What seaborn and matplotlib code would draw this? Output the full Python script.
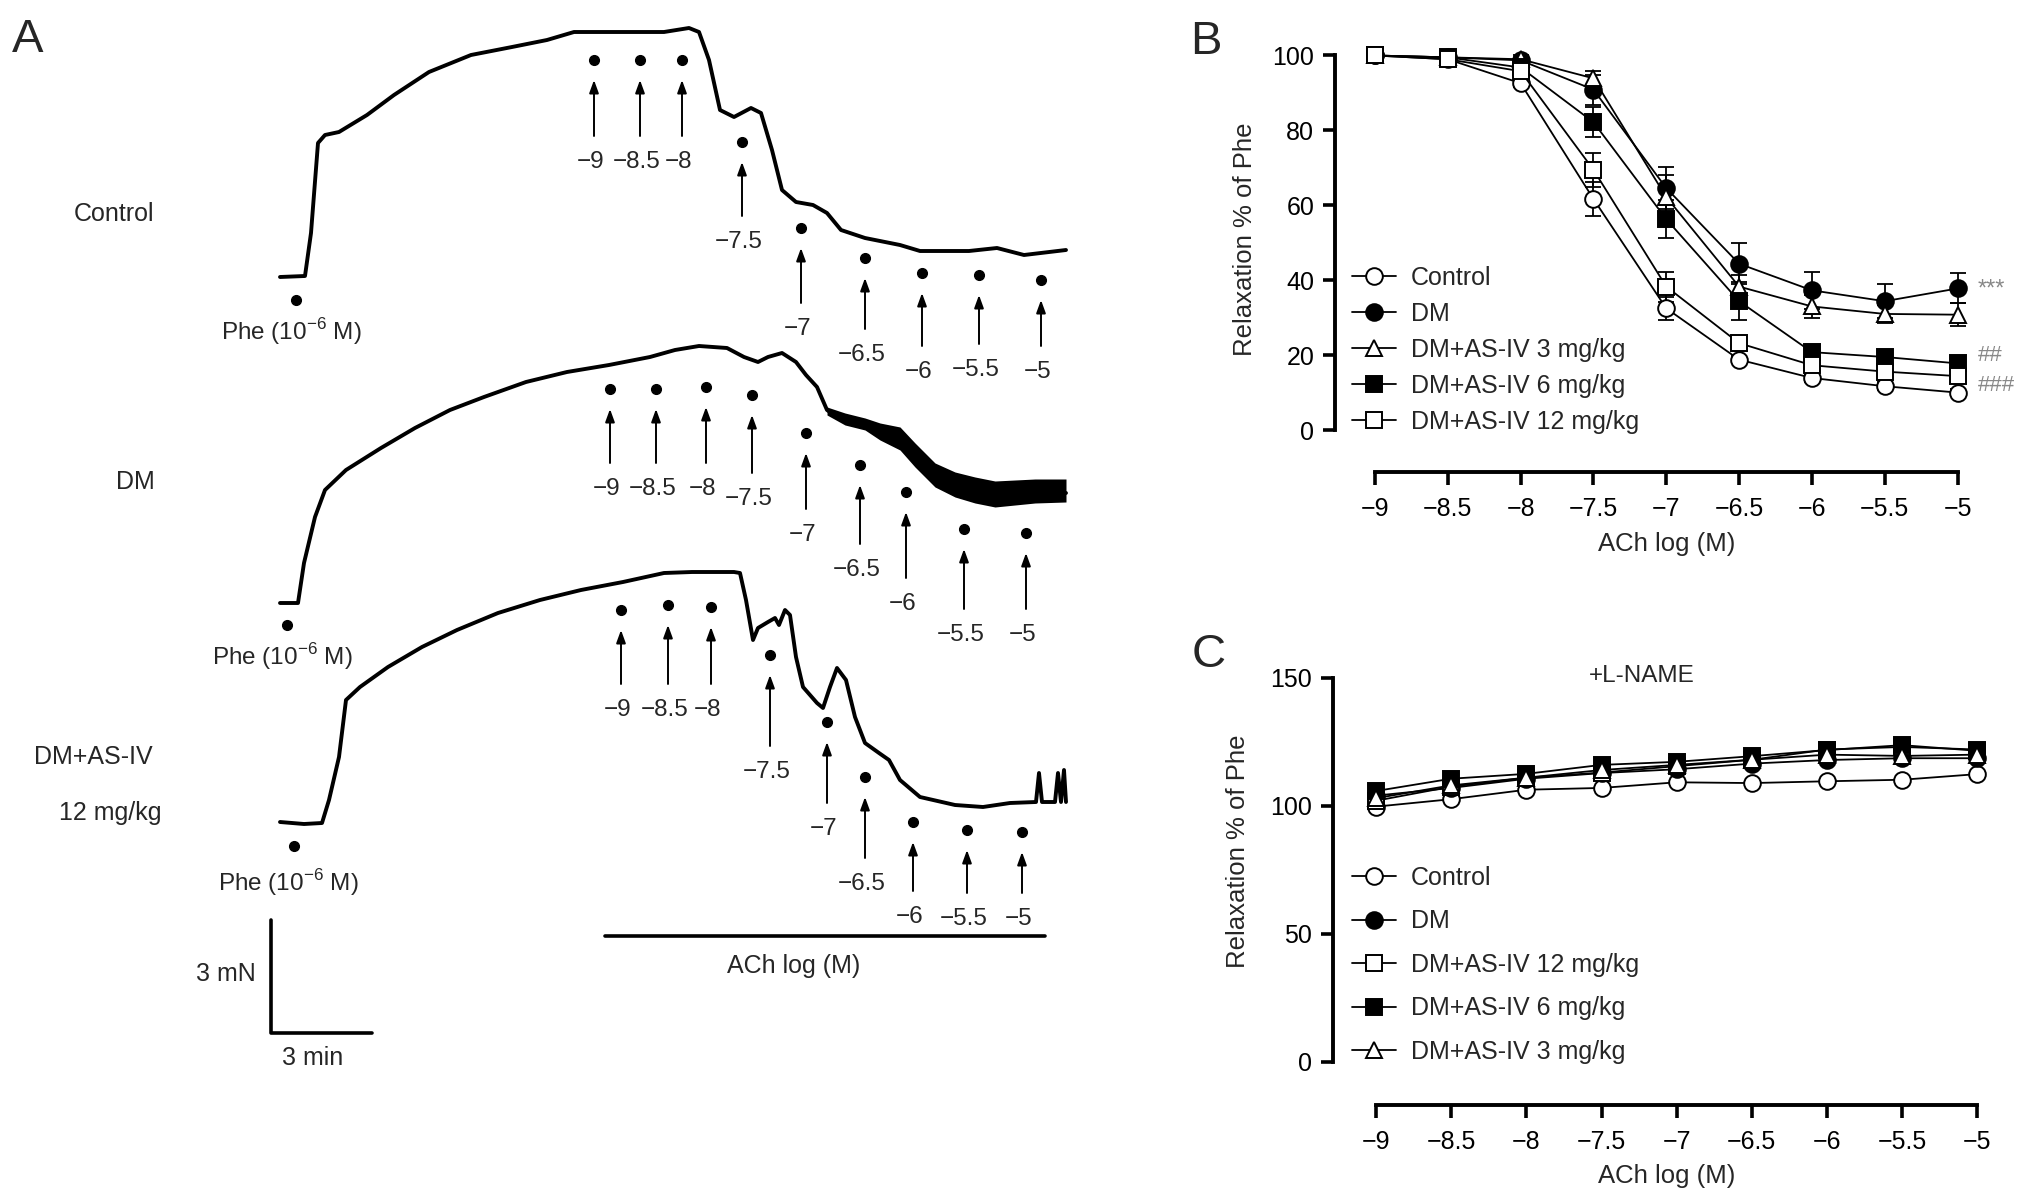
import numpy as np
import pandas as pd
import matplotlib
matplotlib.use('Agg')
import matplotlib.pyplot as plt
import seaborn as sns

sns.set_theme(style='white')
plt.rcParams['font.family'] = ['Liberation Sans', 'DejaVu Sans']

W, H = 2031, 1202

# ---------------- data ----------------
ach_log = [-9, -8.5, -8, -7.5, -7, -6.5, -6, -5.5, -5]
ach_labels = ['−9', '−8.5', '−8', '−7.5', '−7', '−6.5', '−6', '−5.5', '−5']

groups_b = ['Control', 'DM', 'DM+AS-IV 3 mg/kg', 'DM+AS-IV 6 mg/kg', 'DM+AS-IV 12 mg/kg']
groups_c = ['Control', 'DM', 'DM+AS-IV 12 mg/kg', 'DM+AS-IV 6 mg/kg', 'DM+AS-IV 3 mg/kg']

# panel B, relaxation % of Phe
b_control = [100, 99, 92.6, 61.7, 32.5, 18.8, 13.9, 11.7, 10.0]
b_dm = [100, 99.5, 98.7, 90.9, 64.6, 44.4, 37.3, 34.4, 37.8]
b_as3 = [100, 99.5, 99.0, 93.9, 62.2, 38.3, 33.0, 31.0, 30.8]
b_as6 = [100, 99.5, 96.8, 82.2, 56.3, 34.4, 20.8, 19.5, 17.8]
b_as12 = [100, 99.0, 95.8, 69.5, 38.3, 23.2, 17.3, 15.6, 14.4]

b_control_err = [0, 0.5, 1, 4.5, 3, 1, 1, 1, 1]
b_dm_err = [0, 0.5, 1, 4, 5.6, 5.5, 4.9, 4.5, 4]
b_as3_err = [0, 0.5, 1, 2, 6, 3, 3, 2.5, 3]
b_as6_err = [0, 0.5, 1, 4, 5, 5, 2, 1.5, 1.5]
b_as12_err = [0, 0.5, 1, 4.5, 4, 2, 1, 1, 1]

# panel C (+L-NAME)
c_control = [99.7, 102.6, 106.3, 107.0, 109.2, 108.9, 109.6, 110.2, 112.4]
c_dm = [104.0, 107.0, 110.6, 112.8, 114.3, 116.5, 117.9, 118.6, 118.6]
c_as12 = [102.0, 107.5, 111.0, 113.0, 115.5, 118.0, 122.0, 123.0, 122.0]
c_as6 = [105.8, 110.6, 112.5, 116.0, 117.2, 119.4, 121.8, 123.7, 121.5]
c_as3 = [103.0, 108.0, 111.0, 114.0, 116.0, 118.0, 120.0, 119.5, 120.0]

# panel A, tension recordings (image units)
ctrl_x = [280, 305, 311, 318, 325, 339, 367, 394, 429, 471, 512, 547, 574, 602, 637, 664, 689,
          699, 709, 720, 734, 751, 761, 772, 782, 796, 813, 827, 841, 865, 900, 920, 969, 997,
          1024, 1066]
ctrl_y = [277, 276, 233, 143, 135, 132, 115, 95, 72, 55, 47, 40, 32, 32, 32, 32, 28,
          32, 60, 110, 117, 108, 113, 150, 190, 202, 205, 213, 230, 238, 245, 251, 251, 248,
          255, 250]

dm_x = [280, 298, 304, 315, 325, 346, 381, 415, 450, 484, 526, 567, 609, 650, 675, 699, 727,
        744, 758, 768, 782, 796, 806, 817, 827, 837, 858, 879, 900, 913, 934, 962, 983, 1003,
        1024, 1052, 1066]
dm_y = [603, 603, 563, 517, 490, 470, 448, 428, 410, 397, 382, 372, 365, 357, 350, 346, 348,
        357, 362, 357, 353, 362, 375, 387, 410, 417, 422, 430, 437, 457, 473, 487, 497, 493,
        495, 490, 493]
dm_noise_x = [827, 845, 865, 880, 900, 915, 935, 955, 975, 995, 1015, 1035, 1066]
dm_noise_top = [407, 413, 418, 423, 427, 443, 463, 472, 477, 481, 480, 479, 479]
dm_noise_bot = [415, 425, 430, 440, 450, 467, 487, 497, 503, 507, 505, 503, 502]

as_x = [280, 304, 322, 329, 339, 346, 360, 388, 422, 457, 498, 540, 581, 623, 664, 692, 734,
        740, 746, 753, 758, 768, 775, 779, 785, 790, 796, 803, 817, 823, 830, 837, 846, 855,
        865, 879, 889, 900, 920, 955, 983, 1010, 1036, 1039, 1042, 1055, 1058, 1061, 1064, 1066]
as_y = [822, 824, 823, 800, 757, 700, 687, 667, 647, 630, 613, 600, 590, 582, 573, 572, 572,
        573, 600, 640, 628, 622, 618, 625, 610, 615, 657, 687, 703, 708, 687, 668, 680, 717,
        743, 753, 760, 780, 797, 805, 807, 803, 802, 773, 802, 802, 773, 802, 770, 802]

# ACh additions: dot positions and label heights for each recording
ctrl_dot_x = [594, 640, 682, 742, 801, 865, 922, 979, 1041]
ctrl_dot_y = [60, 60, 60, 142, 228, 258, 273, 275, 280]
ctrl_lab_y = [162, 162, 162, 242, 329, 355, 372, 370, 372]

dm_dot_x = [610, 656, 706, 752, 806, 860, 906, 964, 1026]
dm_dot_y = [389, 389, 387, 395, 433, 465, 492, 529, 533]
dm_lab_y = [489, 489, 489, 499, 535, 570, 604, 635, 635]

as_dot_x = [621, 668, 711, 770, 827, 865, 913, 967, 1022]
as_dot_y = [610, 605, 607, 655, 722, 777, 822, 830, 832]
as_lab_y = [710, 710, 710, 772, 829, 884, 917, 919, 919]

phe_dot = [(296, 300), (287, 625), (294, 846)]
phe_lab = [(291, 332), (282, 657), (288, 883)]

# ---------------- figure ----------------
fig = plt.figure(figsize=(W / 100, H / 100), dpi=100)

ax_a = fig.add_axes([0, 0, 1, 1])
ax_a.set_xlim(0, W)
ax_a.set_ylim(H, 0)
ax_a.axis('off')

for tx, ty in [(ctrl_x, ctrl_y), (dm_x, dm_y), (as_x, as_y)]:
    sns.lineplot(x=tx, y=ty, sort=False, estimator=None, ax=ax_a, color='black', lw=2.8)
ax_a.fill_between(dm_noise_x, dm_noise_top, dm_noise_bot, color='black', lw=0)

for dx, dy, ly in [(ctrl_dot_x, ctrl_dot_y, ctrl_lab_y), (dm_dot_x, dm_dot_y, dm_lab_y),
                   (as_dot_x, as_dot_y, as_lab_y)]:
    ax_a.plot(dx, dy, 'o', ms=7, color='black')
    for x, y, lyy, lab in zip(dx, dy, ly, ach_labels):
        ax_a.annotate('', xy=(x, y + 20), xytext=(x, lyy - 26),
                      arrowprops=dict(arrowstyle='-|>,head_length=0.55,head_width=0.2',
                                      color='black', lw=1.4, mutation_scale=14,
                                      shrinkA=0, shrinkB=0))
        ax_a.text(x - 3, lyy, lab, ha='center', va='center', fontsize=17.5)

for (px, py), (lx, ly) in zip(phe_dot, phe_lab):
    ax_a.plot(px, py, 'o', ms=7, color='black')
    ax_a.text(lx, ly, 'Phe (10$^{\\mathregular{-6}}$ M)', ha='center', va='center', fontsize=17.5)

ax_a.text(114, 214, 'Control', ha='center', va='center', fontsize=18)
ax_a.text(135, 482, 'DM', ha='center', va='center', fontsize=18)
ax_a.text(93, 757, 'DM+AS-IV', ha='center', va='center', fontsize=18)
ax_a.text(110, 813, '12 mg/kg', ha='center', va='center', fontsize=18)

# ACh bar and scale bar
ax_a.plot([605, 1045], [936, 936], color='black', lw=2.6)
ax_a.text(794, 966, 'ACh log (M)', ha='center', va='center', fontsize=18)
ax_a.plot([271, 271, 372], [920, 1033, 1033], color='black', lw=2.6)
ax_a.text(226, 974, '3 mN', ha='center', va='center', fontsize=18)
ax_a.text(313, 1058, '3 min', ha='center', va='center', fontsize=18)

ax_a.text(28, 40, 'A', ha='center', va='center', fontsize=34)
ax_a.text(1206, 42, 'B', ha='center', va='center', fontsize=34)
ax_a.text(1209, 655, 'C', ha='center', va='center', fontsize=34)

markers = {
    'Control': ('o', 'white'),
    'DM': ('o', 'black'),
    'DM+AS-IV 3 mg/kg': ('^', 'white'),
    'DM+AS-IV 6 mg/kg': ('s', 'black'),
    'DM+AS-IV 12 mg/kg': ('s', 'white'),
}


def panel_axes(left_px, right_px, top_px, bottom_px):
    return fig.add_axes([left_px / W, 1 - bottom_px / H,
                         (right_px - left_px) / W, (bottom_px - top_px) / H])


def style_axes(ax, yticks):
    sns.despine(ax=ax)
    for s in ['left', 'bottom']:
        ax.spines[s].set_linewidth(2.8)
        ax.spines[s].set_color('black')
    ax.spines['left'].set_bounds(yticks[0], yticks[-1])
    ax.spines['bottom'].set_bounds(-9, -5)
    ax.set_xticks(ach_log)
    ax.set_xticklabels(ach_labels)
    ax.set_yticks(yticks)
    ax.tick_params(axis='both', direction='out', length=9, width=2.6, labelsize=18,
                   color='black', labelcolor='black', left=True, bottom=True)
    ax.tick_params(axis='x', pad=9)
    ax.tick_params(axis='y', pad=6)
    ax.patch.set_alpha(0)
    ax.grid(False)


def draw_curves(ax, values, errors, order):
    for name in order:
        mk, face = markers[name]
        if errors is not None:
            ax.errorbar(ach_log, values[name], yerr=errors[name], fmt='none', ecolor='black',
                        elinewidth=1.3, capsize=6, capthick=1.3, zorder=2)
        df = pd.DataFrame({'x': ach_log, 'y': values[name]})
        sns.lineplot(data=df, x='x', y='y', ax=ax, color='black', lw=1.3, marker=mk,
                     markersize=12, markerfacecolor=face, markeredgecolor='black',
                     markeredgewidth=1.4, label=name, errorbar=None, zorder=3)


# ---- panel B ----
ax_b = panel_axes(1335, 1994, 40.5, 472)
ax_b.set_xlim(-9.274, -4.75)
ax_b.set_ylim(-11.2, 104)
vals_b = {'Control': b_control, 'DM': b_dm, 'DM+AS-IV 3 mg/kg': b_as3,
          'DM+AS-IV 6 mg/kg': b_as6, 'DM+AS-IV 12 mg/kg': b_as12}
errs_b = {'Control': b_control_err, 'DM': b_dm_err, 'DM+AS-IV 3 mg/kg': b_as3_err,
          'DM+AS-IV 6 mg/kg': b_as6_err, 'DM+AS-IV 12 mg/kg': b_as12_err}
draw_curves(ax_b, vals_b, errs_b, groups_b)
style_axes(ax_b, [0, 20, 40, 60, 80, 100])
ax_b.set_xlabel('ACh log (M)', fontsize=18.5)
ax_b.set_ylabel('Relaxation % of Phe', fontsize=18.5)
ax_b.xaxis.set_label_coords(0.504, -0.139)
ax_b.yaxis.set_label_coords(-0.118, 0.54)
h, l = ax_b.get_legend_handles_labels()
ax_b.legend(h, l, loc='upper left', bbox_to_anchor=(1352 / W, 1 - 266 / H),
            bbox_transform=fig.transFigure, frameon=False, fontsize=18, handlelength=1.75,
            handletextpad=0.6, labelspacing=0.48, borderpad=0, borderaxespad=0)
ax_b.text(-4.86, 37.4, '***', color='#888888', fontsize=17, ha='left', va='center')
ax_b.text(-4.86, 19.8, '##', color='#888888', fontsize=16, ha='left', va='center')
ax_b.text(-4.86, 12.0, '###', color='#888888', fontsize=16, ha='left', va='center')

# ---- panel C ----
ax_c = panel_axes(1333, 2015, 665, 1105)
ax_c.set_xlim(-9.286, -4.75)
ax_c.set_ylim(-16.8, 155)
vals_c = {'Control': c_control, 'DM': c_dm, 'DM+AS-IV 12 mg/kg': c_as12,
          'DM+AS-IV 6 mg/kg': c_as6, 'DM+AS-IV 3 mg/kg': c_as3}
draw_curves(ax_c, vals_c, None, groups_c)
style_axes(ax_c, [0, 50, 100, 150])
ax_c.set_xlabel('ACh log (M)', fontsize=18.5)
ax_c.set_ylabel('Relaxation % of Phe', fontsize=18.5)
ax_c.xaxis.set_label_coords(0.489, -0.134)
ax_c.yaxis.set_label_coords(-0.121, 0.577)
h, l = ax_c.get_legend_handles_labels()
ax_c.legend(h, l, loc='upper left', bbox_to_anchor=(1352 / W, 1 - 866 / H),
            bbox_transform=fig.transFigure, frameon=False, fontsize=18, handlelength=1.75,
            handletextpad=0.6, labelspacing=0.78, borderpad=0, borderaxespad=0)
ax_c.text(-7.23, 150.8, '+L-NAME', fontsize=17.5, ha='center', va='center')

fig.savefig('out.png', dpi=100)
